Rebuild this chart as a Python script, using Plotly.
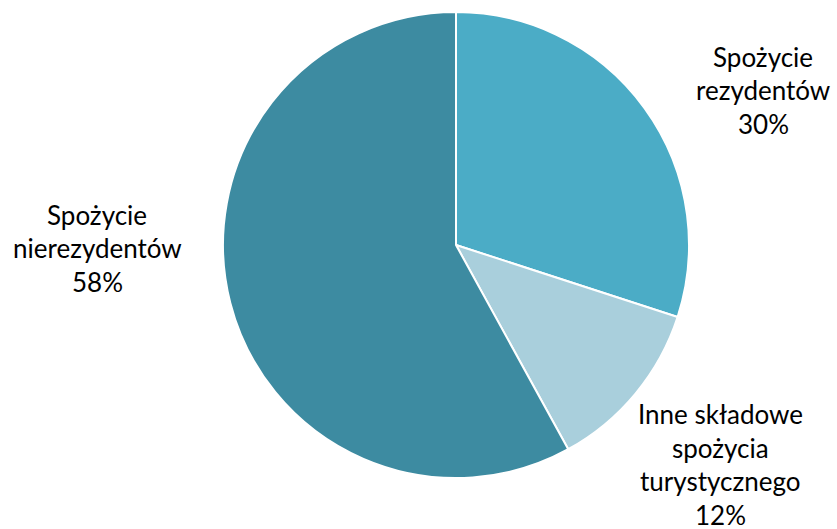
import plotly.graph_objects as go

categories = ["Spożycie rezydentów", "Inne składowe spożycia turystycznego", "Spożycie nierezydentów"]
values = [30, 12, 58]
colors = ["#4BACC6", "#A9CFDC", "#3D8BA1"]

# label lines (text) per category
label_lines = [
    ["Spożycie", "rezydentów", "30%"],
    ["Inne składowe", "spożycia", "turystycznego", "12%"],
    ["Spożycie", "nierezydentów", "58%"],
]
# label anchor positions (pixel centers of first line)
label_pos = [(763, 57), (720, 414), (97, 215)]

W, H = 837, 529
fig = go.Figure(go.Pie(
    labels=categories, values=values, sort=False, direction="clockwise", rotation=0,
    marker=dict(colors=colors, line=dict(color="white", width=2)),
    textinfo="none", hoverinfo="label+percent", showlegend=False,
    domain=dict(x=[223 / W, 689 / W], y=[(H - 478) / H, (H - 12) / H]),
))

line_h = 33.5
for lines, (cx, cy) in zip(label_lines, label_pos):
    for i, t in enumerate(lines):
        fig.add_annotation(
            text=t, x=cx / W, y=1 - (cy + i * line_h) / H, xref="paper", yref="paper",
            showarrow=False, xanchor="center", yanchor="middle",
            font=dict(family="Lato, Carlito, Calibri, sans-serif", size=26, color="#000000"),
        )

fig.update_layout(width=W, height=H, margin=dict(l=0, r=0, t=0, b=0),
                  paper_bgcolor="white", plot_bgcolor="white")
fig.write_html("out.html", config={"displayModeBar": False},
               post_script="document.body.style.margin='0';document.body.style.overflow='hidden';")
